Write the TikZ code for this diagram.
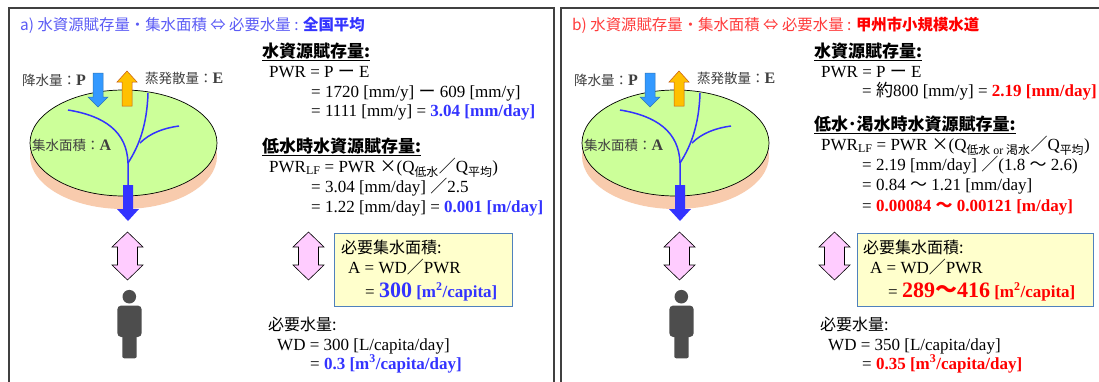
\documentclass[tikz,border=0pt]{standalone}
\usepackage{fontspec}
\setmainfont{Liberation Serif}
\newfontfamily\jp{Noto Sans CJK JP}

\definecolor{titleA}{HTML}{5B5BF5}
\definecolor{titleAb}{HTML}{3333FF}
\definecolor{hiA}{HTML}{3333FF}
\definecolor{titleB}{HTML}{FF3B3B}
\definecolor{titleBb}{HTML}{FF0000}
\definecolor{hiB}{HTML}{FF0000}
\definecolor{framecol}{HTML}{404040}
\definecolor{land}{HTML}{CCFF99}
\definecolor{soil}{HTML}{F8CBAD}
\definecolor{river}{HTML}{3333FF}
\definecolor{rain}{HTML}{3399FF}
\definecolor{rainedge}{HTML}{2E75B6}
\definecolor{evap}{HTML}{FFC000}
\definecolor{evapedge}{HTML}{C55A11}
\definecolor{pinkfill}{HTML}{FFCCFF}
\definecolor{boxfill}{HTML}{FFFFCC}
\definecolor{boxedge}{HTML}{4F81BD}
\definecolor{personcol}{HTML}{4D4D4D}
\definecolor{labelgray}{HTML}{3F3F3F}

\newcommand{\J}[1]{{\jp #1}}
\newcommand{\rmsize}{\fontsize{17}{20}\selectfont}
\newcommand{\bigbold}{\bfseries\fontsize{22}{24}\selectfont}
\newcommand{\varbold}[1]{{\rmfamily\bfseries\fontsize{16}{16}\selectfont #1}}

\tikzset{
  txt/.style={anchor=base west, inner sep=0pt, font=\rmsize},
  hdr/.style={anchor=base west, inner sep=0pt, font=\jp\bfseries\fontsize{17}{20}\selectfont},
  cjk/.style={anchor=base west, inner sep=0pt, font=\jp\fontsize{16}{20}\selectfont},
  lbl/.style={anchor=west, inner sep=0pt, text=labelgray, font=\jp\fontsize{13.5}{16}\selectfont},
  ttl/.style={anchor=base west, inner sep=0pt, font=\jp\fontsize{15.4}{18}\selectfont},
  panelframe/.style={draw=framecol, line width=1.5pt},
  riverline/.style={draw=river, line width=1.5pt},
  pinkarrow/.style={fill=pinkfill, draw=black, line width=0.6pt},
  valuebox/.style={draw=boxedge, fill=boxfill, line width=1pt, inner sep=0pt, anchor=north west},
}

% vertical double-headed block arrow centred on (#1,#2)
\newcommand{\updown}[2]{%
\begin{scope}[shift={(#1,#2)}]
  \draw[pinkarrow] (0,-24) -- (15.5,-9) -- (10,-9) -- (10,9) -- (15.5,9) -- (0,24)
     -- (-15.5,9) -- (-10,9) -- (-10,-9) -- (-15.5,-9) -- cycle;
\end{scope}}

% catchment sketch: green catchment disc, rivers, flows and the user figure
\newcommand{\catchment}[2]{%
\begin{scope}[shift={(#1,0)}]
  \fill[soil] (123.5,156) ellipse [x radius=93.5, y radius=53];
  \draw[fill=land, line width=0.7pt] (123.5,143) ellipse [x radius=93.5, y radius=53];
  % river network
  \draw[riverline] (68,110) .. controls (105,116) and (127,132) .. (128,163) -- (128,188);
  \draw[riverline] (148,93) .. controls (147,125) and (139,146) .. (128,163);
  \draw[riverline] (140,143) .. controls (150,133) and (164,128) .. (179,126);
  % outflow
  \fill[river] (123,185) -- (133,185) -- (133,209) -- (139,209) -- (128,221)
               -- (117,209) -- (123,209) -- cycle;
  % precipitation and evapotranspiration
  \draw[fill=rain, draw=rainedge, line width=0.5pt] (93,73) -- (103,73) -- (103,97)
      -- (108,97) -- (98,107) -- (88,97) -- (93,97) -- cycle;
  \draw[fill=evap, draw=evapedge, line width=0.5pt] (122,106) -- (132,106) -- (132,82)
      -- (137,82) -- (127,71) -- (117,82) -- (122,82) -- cycle;
  \node[lbl] (#2-p) at (22,80) {降水量：\varbold{P}};
  \node[lbl] (#2-e) at (145,78) {蒸発散量：\varbold{E}};
  \node[lbl] (#2-a) at (32,145) {集水面積：\varbold{A}};
  % exchange arrow and user
  \updown{127.5}{256}
  \fill[personcol] (129.3,296.7) circle [radius=6.8];
  \fill[personcol, rounded corners=4pt] (117.3,305.5) rectangle (141.7,337);
  \fill[personcol, rounded corners=2pt] (122.3,330) rectangle (136.7,358.3);
\end{scope}}

\begin{document}
\begin{tikzpicture}[x=1pt, y=-1pt]
\clip (0,0) rectangle (1099,381);
\fill[white] (0,0) rectangle (1099,381);

% ---------------- panel a ----------------
\draw[panelframe] (9,400) -- (9,8) -- (554,8) -- (554,400);
\node[ttl, text=titleA] (a-title) at (20,30)
  {a) 水資源賦存量・集水面積 ⇔ 必要水量 : {\bfseries\color{titleAb}全国平均}};
\catchment{0}{a}

\node[hdr] (a-h1) at (262,57) {\underline{水資源賦存量:}};
\node[txt] (a-l1) at (269,77) {PWR = P \J{ー} E};
\node[txt] (a-l2) at (311,97) {= 1720 [mm/y] \J{ー} 609 [mm/y]};
\node[txt] (a-l3) at (311,116) {= 1111 [mm/y] = {\color{hiA}\bfseries 3.04 [mm/day]}};
\node[hdr] (a-h2) at (262,152) {\underline{低水時水資源賦存量:}};
\node[txt] (a-l4) at (269,172)
  {PWR\textsubscript{LF} = PWR \J{×}(Q\textsubscript{\J{低水}}\J{／}Q\textsubscript{\J{平均}})};
\node[txt] (a-l5) at (311,192) {= 3.04 [mm/day] \J{／}2.5};
\node[txt] (a-l6) at (311,212) {= 1.22 [mm/day] = {\color{hiA}\bfseries 0.001 [m/day]}};

\updown{308.5}{256}
\node[valuebox, minimum width=178pt, minimum height=73pt] (a-box) at (334,233) {};
\node[cjk] (a-b1) at (341,253) {必要集水面積:};
\node[txt] (a-b2) at (348,273) {A = WD\J{／}PWR};
\node[txt] (a-b3) at (365,297)
  {= {\color{hiA}\bfseries{\bigbold 300} [m\textsuperscript{2}/capita]}};

\node[cjk] (a-w1) at (268,330) {必要水量:};
\node[txt] (a-w2) at (277,350) {WD = 300 [L/capita/day]};
\node[txt] (a-w3) at (310,369)
  {= {\color{hiA}\bfseries 0.3 [m\textsuperscript{3}/capita/day]}};

% ---------------- panel b ----------------
\draw[panelframe] (561,400) -- (561,8) -- (1110,8);
\node[ttl, text=titleB] (b-title) at (572,30)
  {b) 水資源賦存量・集水面積 ⇔ 必要水量 : {\bfseries\color{titleBb}甲州市小規模水道}};
\catchment{552}{b}

\node[hdr] (b-h1) at (814,57) {\underline{水資源賦存量:}};
\node[txt] (b-l1) at (821,77) {PWR = P \J{ー} E};
\node[txt] (b-l2) at (862,96) {= \J{約}800 [mm/y] = {\color{hiB}\bfseries 2.19 [mm/day]}};
\node[hdr] (b-h2) at (814,130) {\underline{低水･渇水時水資源賦存量:}};
\node[txt] (b-l3) at (821,150)
  {PWR\textsubscript{LF} = PWR \J{×}(Q\textsubscript{\J{低水} or \J{渇水}}\J{／}Q\textsubscript{\J{平均}})};
\node[txt] (b-l4) at (862,170) {= 2.19 [mm/day] \J{／}(1.8 \J{～} 2.6)};
\node[txt] (b-l5) at (862,190) {= 0.84 \J{～} 1.21 [mm/day]};
\node[txt] (b-l6) at (862,211) {= {\color{hiB}\bfseries 0.00084 \J{～} 0.00121 [m/day]}};

\updown{834.5}{256}
\node[valuebox, minimum width=236pt, minimum height=73pt] (b-box) at (857,233) {};
\node[cjk] (b-b1) at (863,253) {必要集水面積:};
\node[txt] (b-b2) at (870,273) {A = WD\J{／}PWR};
\node[txt] (b-b3) at (888,297)
  {= {\color{hiB}\bfseries{\bigbold 289\J{～}416} [m\textsuperscript{2}/capita]}};

\node[cjk] (b-w1) at (820,330) {必要水量:};
\node[txt] (b-w2) at (828,350) {WD = 350 [L/capita/day]};
\node[txt] (b-w3) at (862,369)
  {= {\color{hiB}\bfseries 0.35 [m\textsuperscript{3}/capita/day]}};
\end{tikzpicture}
\end{document}
